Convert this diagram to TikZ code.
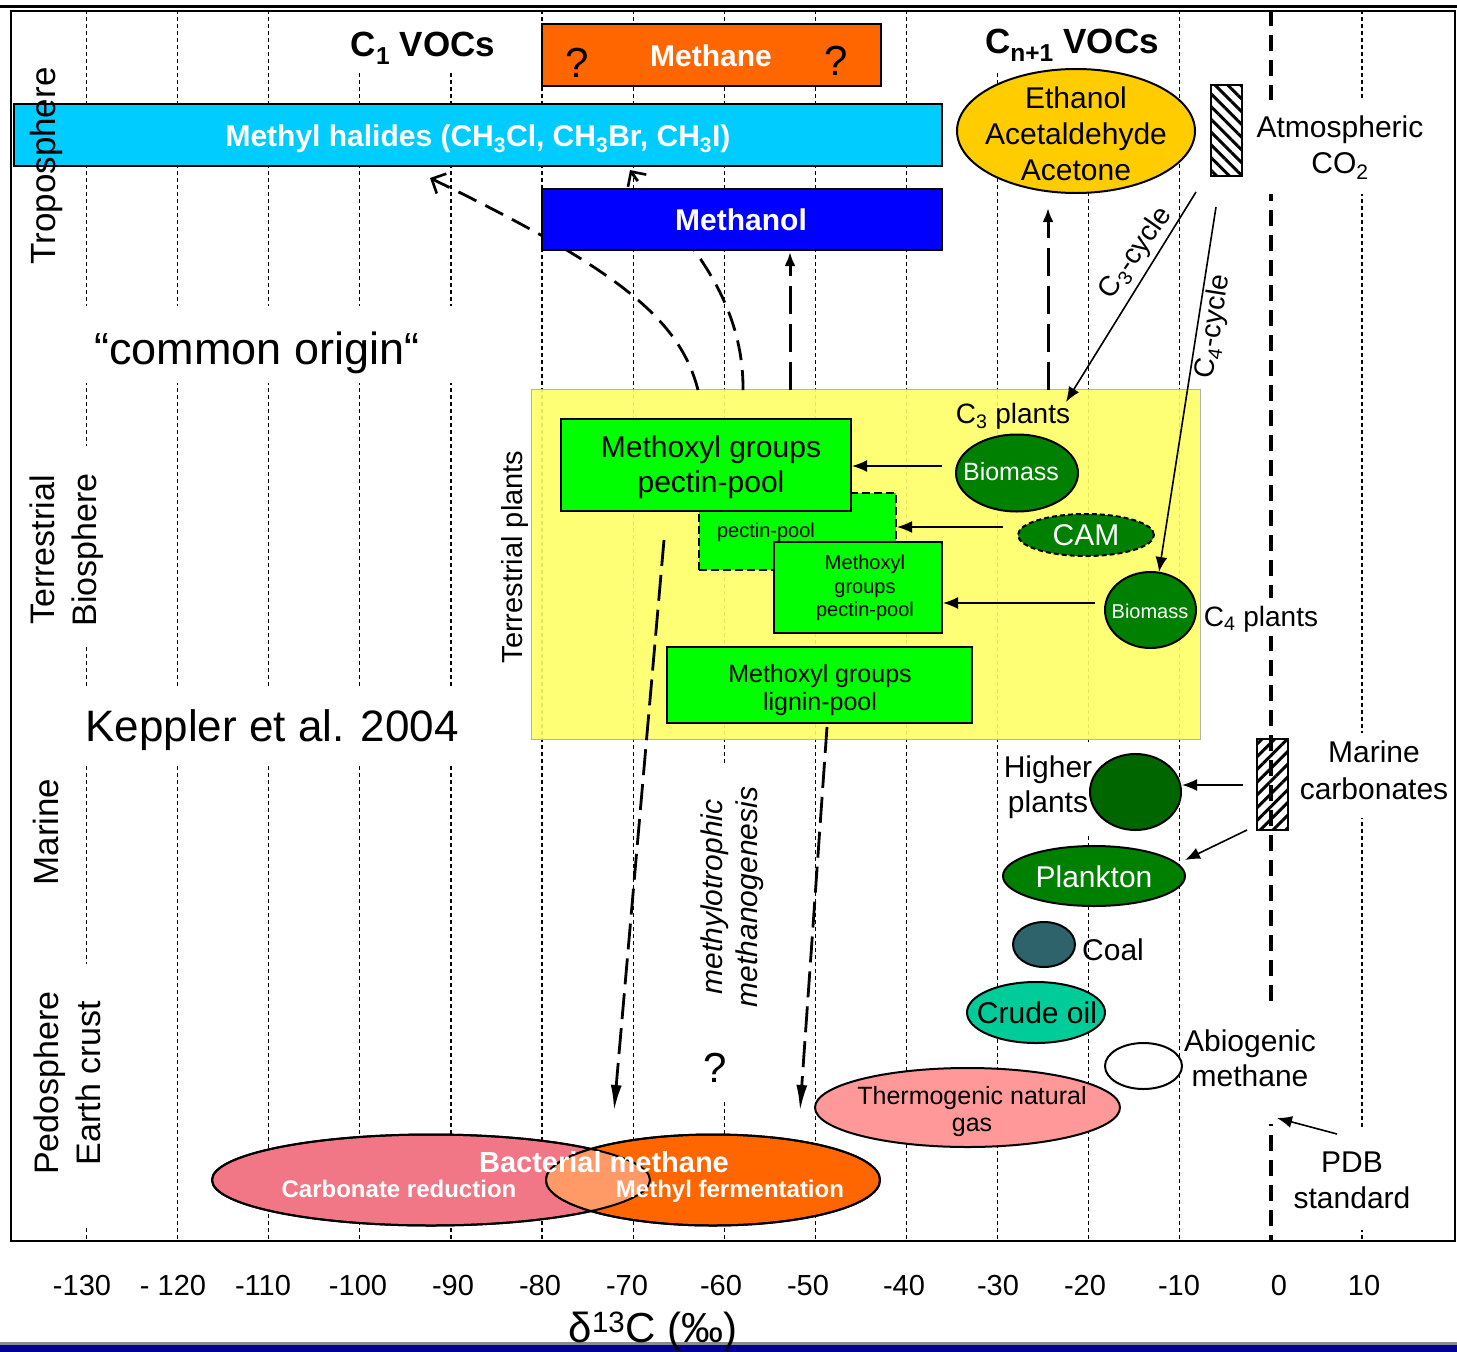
\documentclass[tikz,border=0pt]{standalone}
\usepackage{fontspec}
\setmainfont{Liberation Sans}
\usetikzlibrary{shapes.geometric,arrows.meta,patterns.meta}
\newcommand\fsz[2]{\fontsize{#1pt}{#2pt}\selectfont}
\definecolor{halide}{RGB}{0,204,255}
\definecolor{methor}{RGB}{255,102,0}
\definecolor{methbl}{RGB}{0,0,255}
\definecolor{vocy}{RGB}{255,204,0}
\definecolor{ylw}{RGB}{255,255,102}
\definecolor{lgreen}{RGB}{0,255,0}
\definecolor{dgreen}{RGB}{0,128,0}
\definecolor{hgreen}{RGB}{0,102,0}
\definecolor{coalc}{RGB}{47,99,107}
\definecolor{crudec}{RGB}{0,204,153}
\definecolor{thermoc}{RGB}{255,153,153}
\definecolor{carbred}{RGB}{241,119,135}
\definecolor{lensc}{RGB}{255,153,102}
\definecolor{navybar}{RGB}{0,0,153}
\begin{document}
\begin{tikzpicture}[x=1pt,y=-1pt,
  gridl/.style={line width=1.2pt,dash pattern=on 4pt off 3pt},
  zerol/.style={line width=3.6pt,dash pattern=on 16pt off 9pt},
  boxn/.style={draw=black,line width=2pt,inner sep=0pt},
  gbox/.style={boxn,fill=lgreen},
  ell/.style={ellipse,draw=black,line width=2pt,inner sep=0pt},
  lbl/.style={inner sep=0pt,align=center},
  dasharr/.style={line width=2.8pt,dash pattern=on 20pt off 10pt},
  longarr/.style={line width=2.8pt,dash pattern=on 26pt off 9pt,-{Latex[length=26pt,width=11pt]}},
  uparr/.style={line width=3pt,dash pattern=on 28pt off 10pt,-{Latex[length=14pt,width=11pt]}},
  solarr/.style={line width=1.6pt,-{Latex[length=15pt,width=12pt]}},
  barbtip/.style={-{Straight Barb[length=11pt,width=22pt,line width=2.6pt]}},
  hatchbox/.style={draw=black,line width=2pt,inner sep=0pt},
]
\useasboundingbox (0,0) rectangle (1457,1352);
\fill[white] (0,0) rectangle (1457,1352);

% ---------- grid ----------
\foreach \gx in {86.5,177.6,268.7,359.8,450.9,542,633.1,724.2,815.3,906.4,997.5,1088.6,1179.7,1362}
  \draw[gridl] (\gx,10) -- (\gx,1241);
\draw[zerol] (1271,10) -- (1271,1241);

% ---------- white backgrounds of text boxes ----------
\fill[white] (300,12) rectangle (500,73);
\fill[white] (985,12) rectangle (1165,72);
\fill[white] (78,306) rectangle (462,383);
\fill[white] (78,686) rectangle (470,763);
\fill[white] (70,446) rectangle (106,646);
\fill[white] (70,964) rectangle (106,1228);
\fill[white] (1250,100) rectangle (1430,194);
\fill[white] (1298,733) rectangle (1452,818);
\fill[white] (1185,1008) rectangle (1320,1124);
\fill[white] (1290,1130) rectangle (1415,1230);
\fill[white] (695,765) rectangle (770,1100);
\fill[white] (1000,745) rectangle (1092,833);
\fill[white] (1240,598) rectangle (1324,636);

% ---------- yellow terrestrial plants area ----------
\node[draw=black!30,line width=0.8pt,fill=ylw,fill opacity=0.9,minimum width=669pt,minimum height=350pt,inner sep=0pt] (terr) at (865.5,564) {};

% ---------- curved dashed arrows (behind Methanol) ----------
\coordinate (cA0) at (698,390); \coordinate (cA1) at (430,178);
\coordinate (cB0) at (743,390); \coordinate (cB1) at (630,170);
\draw[dasharr,barbtip] (cA0) .. controls (680,320) and (620,270) .. (cA1);
\draw[dasharr,barbtip] (cB0) .. controls (744,280) and (660,215) .. (cB1);

% ---------- C1 VOC bars ----------
\node[boxn,fill=methor,minimum width=339pt,minimum height=62pt] (methane) at (711.5,55) {};
\node[boxn,fill=halide,minimum width=928pt,minimum height=62pt] (halides) at (478,135) {};
\node[boxn,fill=methbl,minimum width=400pt,minimum height=61pt] (methanol) at (742,219.5) {};
\node[lbl,anchor=base,text=white,font={\fsz{30}{36}\bfseries}] (methanetxt) at (711,66) {Methane};
\node[lbl,anchor=base,font={\fsz{42}{50}}] (qa) at (577,77) {?};
\node[lbl,anchor=base,font={\fsz{42}{50}}] (qb) at (836,75) {?};
\node[lbl,anchor=base,text=white,font={\fsz{30}{36}\bfseries}] (halidestxt) at (478,146) {Methyl halides (CH\textsubscript{3}Cl, CH\textsubscript{3}Br, CH\textsubscript{3}I)};
\node[lbl,anchor=base,text=white,font={\fsz{30}{36}\bfseries}] (methanoltxt) at (741,230) {Methanol};
\node[lbl,anchor=base,font={\fsz{35}{42}\bfseries}] (c1voc) at (423,56) {C\textsubscript{1} VOCs};
\node[lbl,anchor=base,font={\fsz{35}{42}\bfseries}] (cnvoc) at (1072,53) {C\textsubscript{n+1} VOCs};

% ---------- left side labels ----------
\node[lbl,rotate=90,font={\fsz{35}{42}}] (tropo) at (46,166) {Troposphere};
\node[lbl,rotate=90,font={\fsz{34}{42}}] (tbio) at (67,550) {Terrestrial\\Biosphere};
\node[lbl,rotate=90,font={\fsz{35}{42}}] (marine) at (46,832) {Marine};
\node[lbl,rotate=90,font={\fsz{34}{42}}] (pedo) at (67,1083) {Pedosphere\\Earth crust};
\node[lbl,anchor=base,font={\fsz{45}{52}}] (common) at (257,364) {“common origin“};
\node[lbl,anchor=base,font={\fsz{44}{50}}] (keppler) at (272,741) {Keppler et al. 2004};

% ---------- Cn+1 VOCs and CO2 ----------
\node[ell,fill=vocy,minimum width=238pt,minimum height=124pt] (eth) at (1076,131) {};
\node[lbl,font={\fsz{30}{36}}] (ethtxt) at (1076,134) {Ethanol\\Acetaldehyde\\Acetone};
\node[hatchbox,pattern={Lines[angle=-45,distance=9pt,line width=3pt]},minimum width=31pt,minimum height=91pt] (co2) at (1226.5,130.5) {};
\node[lbl,font={\fsz{30}{36}}] (atm) at (1340,148) {Atmospheric\\CO\textsubscript{2}};

% ---------- terrestrial plant pools ----------
\node[lbl,rotate=90,font={\fsz{29}{34}}] (terrp) at (515,557) {Terrestrial plants};
\node[gbox,dash pattern=on 8pt off 4pt,minimum width=197pt,minimum height=77pt] (bxB) at (797.5,531.5) {};
\node[gbox,minimum width=290pt,minimum height=92pt] (bxA) at (706,465) {};
\node[gbox,minimum width=168pt,minimum height=91pt] (bxC) at (858,587.5) {};
\node[gbox,minimum width=305pt,minimum height=76pt] (bxD) at (819.5,685) {};
\node[lbl,font={\fsz{30}{35}}] (bxAt) at (711,467) {Methoxyl groups\\pectin-pool};
\node[lbl,anchor=base,font={\fsz{20}{24}}] (bxBt) at (766,537) {pectin-pool};
\node[lbl,font={\fsz{20}{23.5}}] (bxCt) at (865,588) {Methoxyl\\groups\\pectin-pool};
\node[lbl,font={\fsz{25}{28}}] (bxDt) at (820,690) {Methoxyl groups\\lignin-pool};

\node[ell,fill=dgreen,minimum width=122pt,minimum height=77pt] (bio3) at (1017,473) {};
\node[lbl,anchor=base,text=white,font={\fsz{25}{30}}] (bio3t) at (1011,480) {Biomass};
\node[ell,fill=dgreen,dash pattern=on 5pt off 3pt,minimum width=136pt,minimum height=42pt] (cam) at (1086,535) {};
\node[lbl,anchor=base,text=white,font={\fsz{30}{36}}] (camt) at (1086,545) {CAM};
\node[ell,fill=dgreen,minimum width=91pt,minimum height=76pt] (bio4) at (1150.5,610) {};
\node[lbl,anchor=base,text=white,font={\fsz{20}{24}}] (bio4t) at (1150,618) {Biomass};
\node[lbl,anchor=base,font={\fsz{28}{34}}] (c3p) at (1013,423) {C\textsubscript{3} plants};
\node[lbl,anchor=base,font={\fsz{28}{34}}] (c4p) at (1261,626) {C\textsubscript{4} plants};
\node[fill=white,inner sep=1pt,rotate=55,font={\fsz{28}{34}}] (c3lbl) at (1136,253) {C\textsubscript{3}-cycle};
\node[lbl,rotate=81,font={\fsz{28}{34}}] (c4lbl) at (1214,327) {C\textsubscript{4}-cycle};

% ---------- marine ----------
\node[ell,fill=hgreen,minimum width=91pt,minimum height=76pt] (higher) at (1135.5,792) {};
\node[lbl,font={\fsz{30}{35}}] (highert) at (1048,787.5) {Higher\\plants};
\node[hatchbox,pattern={Lines[angle=45,distance=9pt,line width=3pt]},minimum width=31pt,minimum height=91pt] (mcarb) at (1272.5,784.5) {};
\node[lbl,font={\fsz{30}{37}}] (mcarbt) at (1374,770.5) {Marine\\carbonates};
\node[ell,fill=dgreen,minimum width=182pt,minimum height=60pt] (plank) at (1094,876) {};
\node[lbl,anchor=base,text=white,font={\fsz{30}{36}}] (plankt) at (1094,887) {Plankton};

% ---------- pedosphere ----------
\node[ell,fill=coalc,minimum width=62pt,minimum height=45pt] (coal) at (1044,944.5) {};
\node[lbl,anchor=base,font={\fsz{30}{36}}] (coalt) at (1113,960) {Coal};
\node[ell,fill=crudec,minimum width=138pt,minimum height=61pt] (crude) at (1036,1012.5) {};
\node[lbl,anchor=base,font={\fsz{30}{36}}] (crudet) at (1037,1023) {Crude oil};
\node[ell,fill=white,minimum width=77pt,minimum height=46pt] (abio) at (1143.5,1066) {};
\node[lbl,font={\fsz{30}{35}}] (abiot) at (1250,1058.5) {Abiogenic\\methane};
\node[ell,fill=thermoc,minimum width=305pt,minimum height=79pt] (thermo) at (967.5,1107.5) {};
\node[lbl,font={\fsz{25}{27}}] (thermot) at (972,1112) {Thermogenic natural\\gas};
\node[lbl,font={\fsz{30}{36}}] (pdbt) at (1352,1180) {PDB\\standard};

\node[ell,fill=carbred,minimum width=438pt,minimum height=91pt] (carb) at (431,1180) {};
\node[ell,fill=methor,minimum width=334pt,minimum height=91pt] (ferm) at (713,1180) {};
\begin{scope}
  \clip (431,1180) ellipse [x radius=219pt, y radius=45.5pt];
  \fill[lensc] (713,1180) ellipse [x radius=167pt, y radius=45.5pt];
\end{scope}
\draw[line width=2pt] (431,1180) ellipse [x radius=219pt, y radius=45.5pt];
\draw[line width=2pt] (713,1180) ellipse [x radius=167pt, y radius=45.5pt];
\node[lbl,anchor=base,text=white,font={\fsz{29}{34}\bfseries}] (bactt) at (604,1172) {Bacterial methane};
\node[lbl,anchor=base,text=white,font={\fsz{24}{29}\bfseries}] (carbt) at (399,1197) {Carbonate reduction};
\node[lbl,anchor=base,text=white,font={\fsz{24}{29}\bfseries}] (fermt) at (730,1197) {Methyl fermentation};

\node[lbl,rotate=90,font={\fsz{30}{35}\itshape}] (methyl) at (732,897) {methylotrophic\\methanogenesis};
\node[lbl,anchor=base,font={\fsz{42}{50}}] (qc) at (715,1082) {?};

% ---------- arrows ----------
\coordinate (u1s) at (790,390); \coordinate (u1e) at (790,252);
\coordinate (u2s) at (1048,390); \coordinate (u2e) at (1048,208);
\draw[uparr] (u1s) -- (u1e);
\draw[uparr] (u2s) -- (u2e);
\coordinate (d1s) at (664,540); \coordinate (d1e) at (614,1111);
\coordinate (d2s) at (827,727); \coordinate (d2e) at (800,1111);
\draw[longarr] (d1s) -- (d1e);
\draw[longarr] (d2s) -- (d2e);

\coordinate (c3s) at (1196,192); \coordinate (c3e) at (1066,402);
\coordinate (c4s) at (1216,207); \coordinate (c4e) at (1159,572);
\draw[solarr] (c3s) -- (c3e);
\draw[solarr] (c4s) -- (c4e);

\coordinate (hAs) at (942,466); \coordinate (hAe) at (852,466);
\coordinate (hBs) at (1003,527); \coordinate (hBe) at (897,527);
\coordinate (hCs) at (1095,603); \coordinate (hCe) at (943,603);
\draw[solarr] (hAs) -- (hAe);
\draw[solarr] (hBs) -- (hBe);
\draw[solarr] (hCs) -- (hCe);

\coordinate (m1s) at (1243,785); \coordinate (m1e) at (1182,785);
\coordinate (m2s) at (1247,830); \coordinate (m2e) at (1185,860);
\coordinate (ps) at (1337,1134); \coordinate (pe) at (1277,1118);
\draw[solarr] (m1s) -- (m1e);
\draw[solarr] (m2s) -- (m2e);
\draw[solarr] (ps) -- (pe);

% ---------- frame ----------
\draw[line width=3pt] (0,6.5) -- (1457,6.5);
\draw[line width=2pt] (10.5,10.5) rectangle (1455,1241);
\fill[black!45] (0,1342) rectangle (1457,1345);
\fill[navybar] (0,1345) rectangle (1457,1352);

% ---------- axis ----------
\foreach \lx/\lt [count=\k] in {82/-130,173/- 120,263/-110,358/-100,453/-90,540/-80,627/-70,721/-60,808/-50,904/-40,998/-30,1085/-20,1179/-10,1279/0,1364/10}
  \node[lbl,anchor=base,font={\fsz{29}{34}}] (tick\k) at (\lx,1295) {\lt};
\node[lbl,anchor=base,font={\fsz{42}{50}}] (axislbl) at (653,1342) {δ\textsuperscript{13}C (‰)};
\end{tikzpicture}
\end{document}
